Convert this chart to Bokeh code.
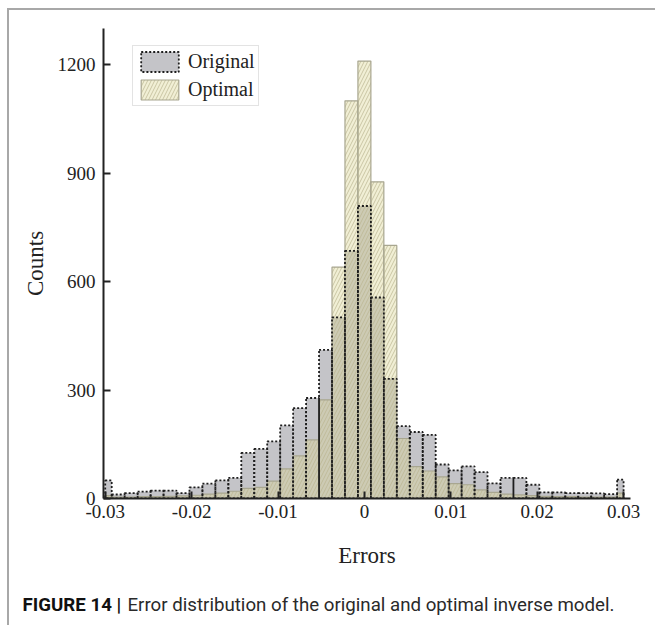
import numpy as np
from bokeh.plotting import figure
from bokeh.models import Range1d, FixedTicker, Legend, LegendItem
from bokeh.core.properties import value
from bokeh.embed import file_html
from bokeh.resources import INLINE

# ---- data ----
bin_width = 0.0015
bin_centers = [-0.03, -0.0285, -0.027, -0.0255, -0.024, -0.0225, -0.021, -0.0195,
               -0.018, -0.0165, -0.015, -0.0135, -0.012, -0.0105, -0.009, -0.0075,
               -0.006, -0.0045, -0.003, -0.0015, 0.0, 0.0015, 0.003, 0.0045, 0.006,
               0.0075, 0.009, 0.0105, 0.012, 0.0135, 0.015, 0.0165, 0.018, 0.0195,
               0.021, 0.0225, 0.024, 0.0255, 0.027, 0.0285, 0.03]
original = [50, 11, 15, 19, 22, 22, 15, 31, 41, 50, 57, 126, 137, 158, 202, 250,
            278, 411, 501, 685, 809, 556, 331, 200, 184, 176, 94, 78, 89, 73, 42,
            57, 57, 38, 17, 17, 15, 15, 14, 12, 52]
optimal = [8, 4, 4, 5, 5, 6, 7, 9, 12, 15, 20, 28, 31, 48, 82, 118, 162, 273,
           640, 1100, 1210, 876, 700, 166, 88, 76, 60, 41, 38, 24, 17, 12, 10, 8,
           6, 5, 5, 4, 4, 4, 15]
x_ticks = [-0.03, -0.02, -0.01, 0, 0.01, 0.02, 0.03]
x_tick_labels = ["-0.03", "-0.02", "-0.01", "0", "0.01", "0.02", "0.03"]
y_ticks = [0, 300, 600, 900, 1200]
series_names = ["Original", "Optimal"]
caption_bold = "FIGURE 14 |"
caption_text = "Error distribution of the original and optimal inverse model."

lo, hi = min(x_ticks), max(x_ticks)
centers = np.array(bin_centers)
left = np.clip(centers - bin_width / 2, lo, hi)
right = np.clip(centers + bin_width / 2, lo, hi)

SERIF = "Liberation Serif"
FRAME = "2px solid #a8a8a8"

p = figure(width=648, height=565, output_backend="svg", toolbar_location=None,
           x_range=Range1d(-0.0302, 0.0308), y_range=Range1d(0, 1300),
           min_border_left=94, min_border_right=27, min_border_top=18,
           min_border_bottom=77)
p.outline_line_color = None
p.xgrid.grid_line_color = None
p.ygrid.grid_line_color = None
p.background_fill_color = "white"
p.border_fill_color = "white"
p.styles = {"margin-left": "7px", "margin-top": "8px",
            "border-left": FRAME, "border-top": FRAME}

# original bars (fill)
r_orig_fill = p.quad(left=left, right=right, bottom=0, top=original,
                     fill_color="#c4c4c8", line_color=None)
# optimal bars (translucent hatched)
r_opt = p.quad(left=left, right=right, bottom=0, top=optimal,
               fill_color="#dcd796", fill_alpha=0.4,
               hatch_pattern="/", hatch_color="#b9b48e", hatch_alpha=0.7,
               hatch_scale=7, hatch_weight=1,
               line_color="#a8a690", line_width=1.2)
# original outline (dotted) on top
r_orig_line = p.quad(left=left, right=right, bottom=0, top=original,
                     fill_color=None, line_color="#1e1e1e", line_width=1.8,
                     line_dash="2 2")

for ax in (p.xaxis[0], p.yaxis[0]):
    ax.axis_line_color = "#222222"
    ax.axis_line_width = 2
    ax.major_tick_line_color = "#222222"
    ax.major_tick_line_width = 2
    ax.major_tick_in = 7
    ax.major_tick_out = 0
    ax.minor_tick_line_color = None
    ax.major_label_text_font = SERIF
    ax.major_label_text_font_size = "19px"
    ax.major_label_text_color = "#222222"
    ax.axis_label_text_font = SERIF
    ax.axis_label_text_font_size = "23px"
    ax.axis_label_text_font_style = "normal"
    ax.axis_label_text_color = "#222222"

p.xaxis.ticker = FixedTicker(ticks=x_ticks)
p.xaxis.major_label_overrides = {t: s for t, s in zip(x_ticks, x_tick_labels)}
p.xaxis.major_label_standoff = 6
p.xaxis.axis_label = "Errors"
p.xaxis.axis_label_standoff = 22

p.yaxis.ticker = FixedTicker(ticks=y_ticks)
p.yaxis.major_label_standoff = 8
p.yaxis.axis_label = "Counts"
p.yaxis.axis_label_standoff = 7

legend = Legend(items=[LegendItem(label=series_names[0], renderers=[r_orig_fill, r_orig_line]),
                       LegendItem(label=series_names[1], renderers=[r_opt])],
                location=(29, 392), orientation="vertical",
                glyph_width=47, glyph_height=25, label_height=25,
                label_text_font=SERIF, label_text_font_size="20px",
                label_text_color="#222222", label_standoff=5,
                spacing=3, padding=3, margin=0,
                border_line_color="#c8c8c8", border_line_width=1,
                background_fill_color="white", background_fill_alpha=1)
p.add_layout(legend, "center")

# caption panel (separate root, so its frame is not aligned with the chart's)
cap = figure(width=648, height=52, output_backend="svg", toolbar_location=None,
             x_range=Range1d(0, 648), y_range=Range1d(52, 0),
             x_axis_location=None, y_axis_location=None,
             min_border=0)
cap.outline_line_color = None
cap.xgrid.grid_line_color = None
cap.ygrid.grid_line_color = None
cap.styles = {"margin-left": "7px", "border-left": FRAME}
cap.text(x=[13], y=[31], text=[caption_bold], text_font=value("Roboto"),
         text_font_style="bold", text_font_size="18.7px", text_color="#111111",
         text_baseline="middle", text_align="left")
cap.text(x=[118], y=[31], text=[caption_text], text_font=value("Roboto"),
         text_font_size="18.7px", text_color="#2a2a2a",
         text_baseline="middle", text_align="left")

open("out.html", "w").write(file_html([p, cap], INLINE))
